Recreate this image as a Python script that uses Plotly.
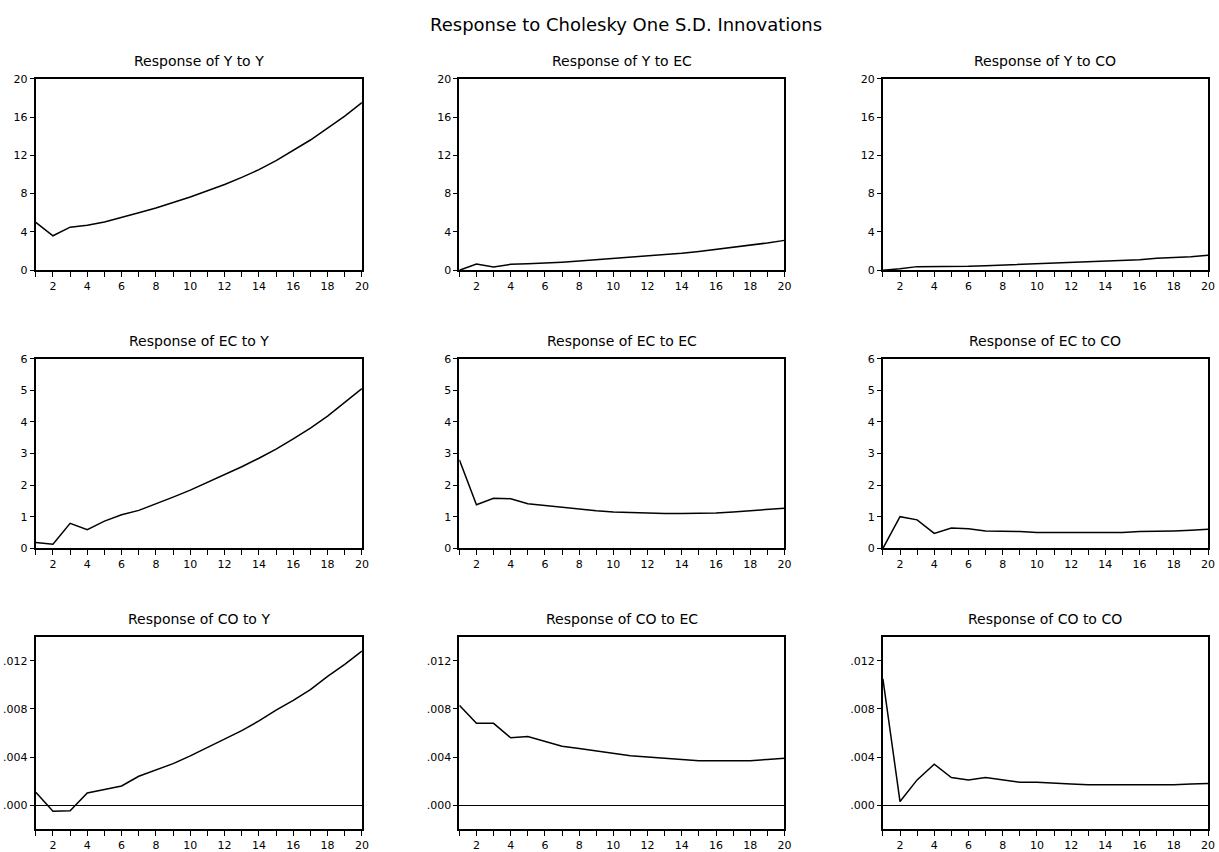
import plotly.graph_objects as go
from plotly.subplots import make_subplots

# ---------------- data ----------------
periods = list(range(1, 21))
x_tick_text = [str(p) if p % 2 == 0 else "" for p in periods]

y_to_y = [5.0, 3.6, 4.5, 4.7, 5.05, 5.5, 6.0, 6.5, 7.05, 7.65,
          8.3, 8.95, 9.7, 10.5, 11.45, 12.5, 13.6, 14.85, 16.1, 17.5]
y_to_ec = [0.0, 0.65, 0.35, 0.62, 0.68, 0.74, 0.85, 0.97, 1.1, 1.22,
           1.35, 1.47, 1.6, 1.78, 1.97, 2.17, 2.38, 2.6, 2.85, 3.12]
y_to_co = [0.0, 0.15, 0.38, 0.37, 0.37, 0.42, 0.48, 0.55, 0.6, 0.65,
           0.72, 0.78, 0.85, 0.9, 0.98, 1.1, 1.25, 1.32, 1.42, 1.57]

ec_to_y = [0.18, 0.13, 0.79, 0.59, 0.86, 1.06, 1.2, 1.4, 1.62, 1.84,
           2.08, 2.32, 2.58, 2.85, 3.14, 3.46, 3.8, 4.18, 4.6, 5.05]
ec_to_ec = [2.8, 1.38, 1.58, 1.57, 1.41, 1.35, 1.29, 1.23, 1.19, 1.15,
            1.13, 1.11, 1.1, 1.1, 1.1, 1.12, 1.15, 1.19, 1.23, 1.27]
ec_to_co = [0.0, 1.0, 0.9, 0.47, 0.64, 0.62, 0.55, 0.55, 0.53, 0.5,
            0.5, 0.5, 0.5, 0.5, 0.5, 0.53, 0.53, 0.55, 0.57, 0.6]

co_to_y = [0.00108, -0.0005, -0.00047, 0.00102, 0.0013, 0.0016, 0.0024, 0.0029, 0.00345, 0.0041,
           0.0048, 0.0055, 0.0062, 0.007, 0.0079, 0.0087, 0.0096, 0.0107, 0.0117, 0.0128]
co_to_ec = [0.0083, 0.0068, 0.0068, 0.0056, 0.0057, 0.0053, 0.0049, 0.0047, 0.0045, 0.0043,
            0.0041, 0.004, 0.0039, 0.0038, 0.0037, 0.0037, 0.0037, 0.0037, 0.0038, 0.0039]
co_to_co = [0.0105, 0.0003, 0.0021, 0.0034, 0.0023, 0.0021, 0.0023, 0.0021, 0.0019, 0.0019,
            0.0018, 0.00175, 0.0017, 0.0017, 0.00165, 0.00165, 0.0017, 0.0017, 0.00175, 0.0018]

series = [[y_to_y, y_to_ec, y_to_co],
          [ec_to_y, ec_to_ec, ec_to_co],
          [co_to_y, co_to_ec, co_to_co]]

panel_titles = [["Response of Y to Y", "Response of Y to EC", "Response of Y to CO"],
                ["Response of EC to Y", "Response of EC to EC", "Response of EC to CO"],
                ["Response of CO to Y", "Response of CO to EC", "Response of CO to CO"]]
main_title = "Response to Cholesky One S.D. Innovations"

row1_ticks = [0, 4, 8, 12, 16, 20]
row1_text = ["0", "4", "8", "12", "16", "20"]
row2_ticks = [0, 1, 2, 3, 4, 5, 6]
row2_text = ["0", "1", "2", "3", "4", "5", "6"]
row3_ticks = [0.0, 0.004, 0.008, 0.012]
row3_text = [".000", ".004", ".008", ".012"]
row_ranges = [[0, 20], [0, 6], [-0.002, 0.014]]
row_tickvals = [row1_ticks, row2_ticks, row3_ticks]
row_ticktext = [row1_text, row2_text, row3_text]

# ---------------- layout geometry (pixels) ----------------
W, H = 1219, 852
col_px = [(36, 364), (462, 789), (888, 1215)]
row_px = [(74, 269), (359, 552), (642, 838)]

FONT = "DejaVu Sans"

fig = make_subplots(rows=3, cols=3)

for r in range(3):
    for c in range(3):
        fig.add_trace(go.Scatter(x=periods, y=series[r][c], mode="lines",
                                 line=dict(color="black", width=1.5),
                                 showlegend=False, hoverinfo="skip"),
                      row=r + 1, col=c + 1)

fig.update_xaxes(range=[1, 20], tickmode="array", tickvals=periods, ticktext=x_tick_text,
                 ticks="outside", ticklen=5, tickwidth=1, tickcolor="black",
                 showline=True, linecolor="black", linewidth=2, mirror=True,
                 showgrid=False, zeroline=False,
                 tickfont=dict(family=FONT, size=11, color="black"))

for r in range(3):
    fig.update_yaxes(range=row_ranges[r], tickmode="array",
                     tickvals=row_tickvals[r], ticktext=row_ticktext[r],
                     ticks="outside", ticklen=4, tickwidth=1, tickcolor="black",
                     showline=True, linecolor="black", linewidth=2, mirror=True,
                     showgrid=False,
                     zeroline=(r == 2), zerolinecolor="black", zerolinewidth=1,
                     tickfont=dict(family=FONT, size=11, color="black"),
                     row=r + 1)

annotations = []
for r in range(3):
    for c in range(3):
        idx = r * 3 + c + 1
        xname = "xaxis" if idx == 1 else f"xaxis{idx}"
        yname = "yaxis" if idx == 1 else f"yaxis{idx}"
        x0, x1 = col_px[c]
        y0, y1 = row_px[r]
        fig.layout[xname].domain = [x0 / W, x1 / W]
        fig.layout[yname].domain = [1 - y1 / H, 1 - y0 / H]
        annotations.append(dict(text=panel_titles[r][c], xref="paper", yref="paper",
                                x=(x0 + x1) / 2 / W, y=1 - (y0 - 18) / H,
                                xanchor="center", yanchor="middle", showarrow=False,
                                font=dict(family=FONT, size=14, color="black")))

annotations.append(dict(text=main_title, xref="paper", yref="paper",
                        x=630 / W, y=1 - 19 / H, xanchor="center", yanchor="middle",
                        showarrow=False, font=dict(family=FONT, size=18, color="black")))

fig.update_layout(width=W, height=H, margin=dict(l=0, r=0, t=0, b=0),
                  paper_bgcolor="white", plot_bgcolor="white",
                  annotations=annotations, showlegend=False)

page_fix = ("document.body.style.margin='0';document.body.style.padding='0';"
            "document.body.style.overflow='hidden';"
            "document.documentElement.style.overflow='hidden';")

fig.write_html("out.html", post_script=page_fix, config={"displayModeBar": False})
